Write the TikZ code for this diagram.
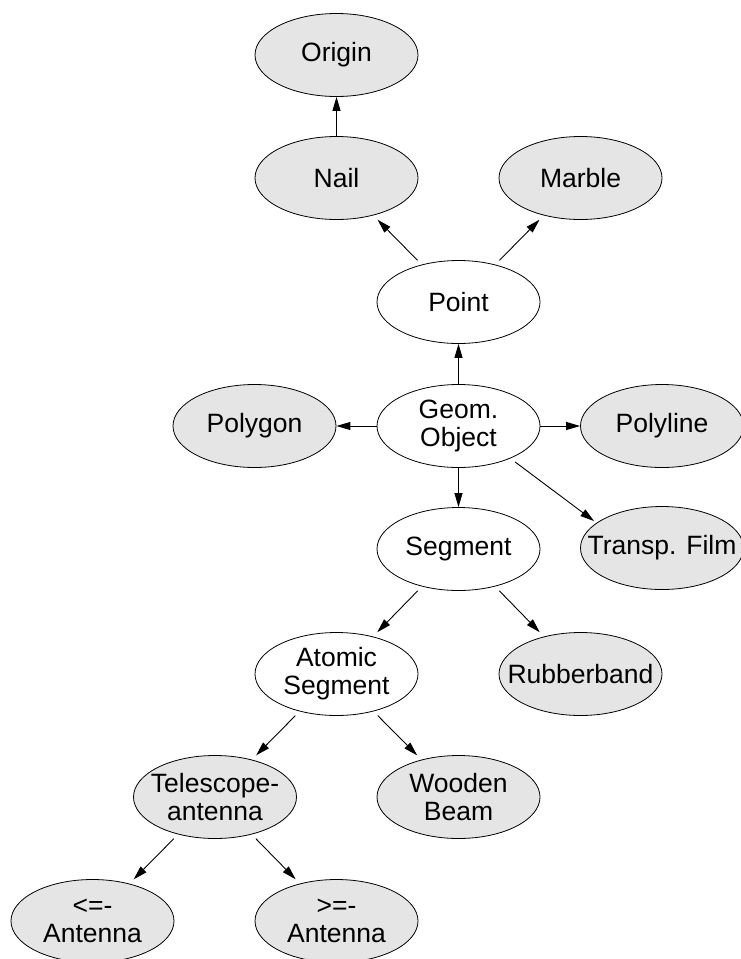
\documentclass[tikz,border=0pt]{standalone}
\usepackage{fontspec}
\setmainfont{Liberation Sans}
\usetikzlibrary{shapes.geometric,arrows.meta}
\definecolor{objgray}{RGB}{229,229,229}
\tikzset{
  obj/.style={ellipse, draw=black, line width=0.8pt, minimum width=163pt,
    minimum height=83pt, inner sep=0pt},
  real/.style={obj, fill=objgray},
  abstr/.style={obj, fill=white},
  every label/.style={align=center, inner sep=0pt,
    font=\fontsize{26.5}{28}\selectfont},
  conn/.style={line width=0.9pt, -{Triangle[length=14pt,width=8pt]}},
  diag/.style={conn, shorten <=6pt, shorten >=6pt},
}
\begin{document}
\begin{tikzpicture}[x=1pt,y=-1pt]
\useasboundingbox (0,0) rectangle (741,959);
\clip (0,0) rectangle (741,959);
\node[real]  (origin)   at (336.5,55)  [label=center:{Origin}] {};
\node[real]  (nail)     at (336.5,178) [label=center:{Nail}] {};
\node[real]  (marble)   at (580.5,178) [label=center:{Marble}] {};
\node[abstr] (point)    at (458.5,302) [label=center:{Point}] {};
\node[real]  (polygon)  at (254.5,426) [label=center:{Polygon}] {};
\node[abstr] (geom)     at (458.5,426) [label=center:{\fontsize{26.5}{32.5}\selectfont Geom.\\Object}] {};
\node[real]  (polyline) at (662,426)   [label=center:{Polyline}] {};
\node[abstr] (segment)  at (458.5,549) [label=center:{Segment}] {};
\node[real]  (film)     at (662,548)   [label=center:{Transp. Film}] {};
\node[abstr] (atomic)   at (336.5,674) [label=center:{Atomic\\Segment}] {};
\node[real]  (rubber)   at (580.5,674) [label=center:{Rubberband}] {};
\node[real]  (tele)     at (215,797)   [label=center:{\fontsize{26.5}{20}\selectfont Telescope-\\antenna}] {};
\node[real]  (wooden)   at (458.5,797) [label=center:{Wooden\\Beam}] {};
\node[real]  (lant)     at (92.5,921)  [label=center:{<=-\\Antenna}] {};
\node[real]  (gant)     at (336.5,921) [label=center:{>=-\\Antenna}] {};

\draw[conn] (nail) -- (origin);
\draw[diag] (point) -- (nail);
\draw[diag] (point) -- (marble);
\draw[conn] (geom) -- (point);
\draw[conn] (geom) -- (polygon);
\draw[conn] (geom) -- (polyline);
\draw[conn] (geom) -- (segment);
\draw[conn, shorten <=6pt, shorten >=3pt] (geom.-32) -- (film.159);
\draw[diag] (segment) -- (atomic);
\draw[diag] (segment) -- (rubber);
\draw[diag] (atomic) -- (tele);
\draw[diag] (atomic) -- (wooden);
\draw[diag] (tele) -- (lant);
\draw[diag] (tele) -- (gant);
\end{tikzpicture}
\end{document}
